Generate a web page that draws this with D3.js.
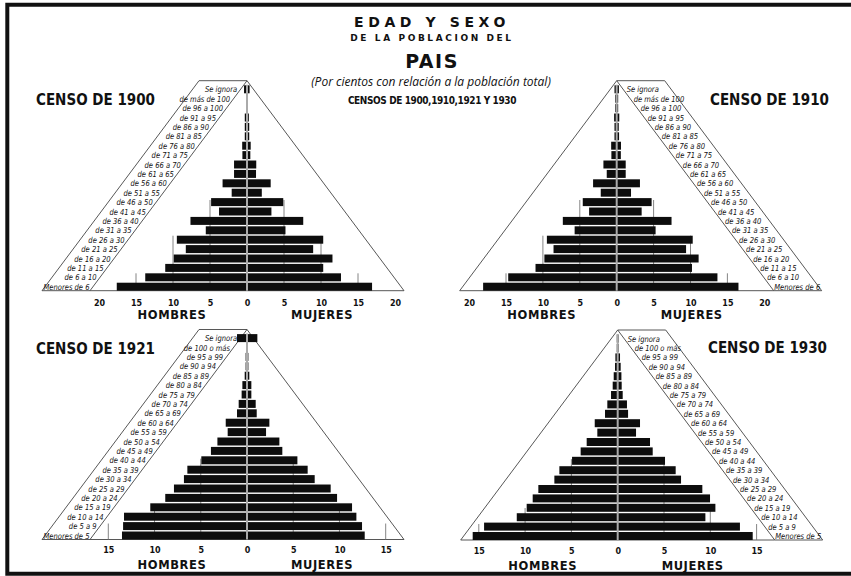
<!DOCTYPE html>
<html>
<head>
<meta charset="utf-8">
<script src="https://cdn.jsdelivr.net/npm/d3@7"></script>
<style>
  body { margin: 0; background: #fff; }
  svg { display: block; }
  .head { font-family: "DejaVu Sans", sans-serif; font-weight: bold; fill: #111; }
  .censo { font-family: "DejaVu Sans Condensed", "DejaVu Sans", sans-serif; font-weight: bold; fill: #111; }
  .age { font-family: "DejaVu Sans Condensed", sans-serif; font-style: italic; font-size: 8.2px; fill: #111; }
  .tick text { font-family: "DejaVu Sans", sans-serif; font-weight: bold; font-size: 8px; fill: #111; }
</style>
</head>
<body>
<div id="chart"></div>
<script>
//age groups, youngest first
var ages1900 = ["Menores de 6", "de 6 a 10", "de 11 a 15", "de 16 a 20", "de 21 a 25", "de 26 a 30",
  "de 31 a 35", "de 36 a 40", "de 41 a 45", "de 46 a 50", "de 51 a 55", "de 56 a 60", "de 61 a 65",
  "de 66 a 70", "de 71 a 75", "de 76 a 80", "de 81 a 85", "de 86 a 90", "de 91 a 95", "de 96 a 100",
  "de más de 100", "Se ignora"];
var ages1921 = ["Menores de 5", "de 5 a 9", "de 10 a 14", "de 15 a 19", "de 20 a 24", "de 25 a 29",
  "de 30 a 34", "de 35 a 39", "de 40 a 44", "de 45 a 49", "de 50 a 54", "de 55 a 59", "de 60 a 64",
  "de 65 a 69", "de 70 a 74", "de 75 a 79", "de 80 a 84", "de 85 a 89", "de 90 a 94", "de 95 a 99",
  "de 100 o más", "Se ignora"];

//per cent of total population
var hombres1900 = [17.6, 13.75, 11.05, 9.9, 8.27, 9.48, 5.57, 7.64, 3.78, 4.85, 2.07, 3.3, 1.75, 1.75, 0.62, 0.65, 0.3, 0.3, 0.3, 0.1, 0.05, 0.4];
var mujeres1900 = [16.9, 12.7, 10.3, 11.55, 8.94, 10.3, 5.2, 7.6, 3.3, 4.9, 2.0, 3.2, 1.22, 1.25, 0.45, 0.5, 0.3, 0.3, 0.25, 0.1, 0.05, 0.35];
var hombres1910 = [18.1, 14.7, 11.0, 9.8, 8.56, 9.46, 5.7, 7.3, 3.74, 4.6, 2.16, 3.2, 1.35, 1.8, 0.72, 0.75, 0.3, 0.3, 0.35, 0.2, 0.2, 0.3];
var mujeres1910 = [16.5, 13.65, 10.2, 11.1, 9.4, 10.3, 5.27, 7.43, 3.38, 4.73, 1.94, 3.15, 1.22, 1.22, 0.56, 0.58, 0.32, 0.28, 0.35, 0.2, 0.2, 0.3];
var hombres1921 = [13.52, 13.4, 13.3, 10.46, 8.84, 7.9, 6.82, 6.45, 4.94, 3.9, 3.2, 2.09, 2.3, 1.08, 0.9, 0.58, 0.5, 0.25, 0.15, 0.15, 0.05, 1.08];
var mujeres1921 = [12.73, 12.44, 11.83, 11.36, 9.74, 9.05, 7.32, 6.56, 5.45, 3.82, 3.5, 2.06, 2.42, 1.05, 0.94, 0.47, 0.47, 0.25, 0.15, 0.15, 0.05, 1.12];
var hombres1930 = [15.66, 14.43, 10.9, 9.83, 9.18, 8.57, 6.84, 6.3, 4.93, 4.0, 3.35, 2.2, 2.48, 1.37, 1.12, 0.72, 0.54, 0.43, 0.29, 0.25, 0.1, 0.1];
var mujeres1930 = [14.58, 13.2, 9.47, 10.55, 9.97, 9.14, 6.84, 6.26, 5.11, 3.78, 3.49, 1.98, 2.41, 1.12, 1.0, 0.54, 0.43, 0.4, 0.32, 0.25, 0.1, 0.1];

//tick labels (men to the left)
var ticks20 = [-20, -15, -10, -5, 0, 5, 10, 15, 20];
var ticks15 = [-15, -10, -5, 0, 5, 10, 15];
var gridValues = [-15, -10, -5, 5, 10, 15];

var width = 851;
var height = 576;
var rowStep = 9.4;
var triH = 210;      //height of the pyramid outline
var triHalf = 157;   //half of its base
var bandW = 48;      //width of the slanted label strip

var svg = d3.select('#chart')
  .append('svg')
  .attr('width', width)
  .attr('height', height);

//frame (no right edge in the scan)
svg.append('path')
  .attr('d', 'M860,4.7H7.3V573.8H860')
  .attr('fill', 'none')
  .attr('stroke', '#111')
  .attr('stroke-width', 4);

//headings
var heads = [
  {t: 'EDAD Y SEXO', y: 27, size: 14, ls: 4.6},
  {t: 'DE LA POBLACION DEL', y: 41, size: 9, ls: 2.6},
  {t: 'PAIS', y: 68, size: 19, ls: 1.5},
  {t: 'CENSOS DE 1900,1910,1921 Y 1930', y: 104, size: 10, ls: -0.4}
];
svg.selectAll('.head')
  .data(heads)
  .enter()
  .append('text')
  .attr('class', function (d, i) { return i == 3 ? 'censo' : 'head'; })
  .attr('x', 432)
  .attr('y', function (d) { return d.y; })
  .attr('text-anchor', 'middle')
  .style('font-size', function (d) { return d.size + 'px'; })
  .style('letter-spacing', function (d) { return d.ls + 'px'; })
  .text(function (d) { return d.t; });

svg.append('text')
  .attr('x', 431)
  .attr('y', 86)
  .attr('text-anchor', 'middle')
  .style('font-family', '"Open Sans", "DejaVu Sans", sans-serif')
  .style('font-style', 'italic')
  .style('font-size', '12px')
  .style('fill', '#111')
  .text('(Por cientos con relación a la población total)');

var panels = [
  {title: 'CENSO DE 1900', men: hombres1900, women: mujeres1900, ages: ages1900, ticks: ticks20,
   cx: 247, by: 290.7, half: 148, labels: 'left', tx: 36, ty: 105, grid: [9.65, 5.85, 1.85], tickDy: 14.8, sexDy: 28.5},
  {title: 'CENSO DE 1910', men: hombres1910, women: mujeres1910, ages: ages1900, ticks: ticks20,
   cx: 616.7, by: 290.7, half: 147.6, labels: 'right', tx: 710, ty: 105, grid: [9.65, 5.85, 1.85], tickDy: 14.8, sexDy: 28.5},
  {title: 'CENSO DE 1921', men: hombres1921, women: mujeres1921, ages: ages1921, ticks: ticks15,
   cx: 247, by: 539.5, half: 138.7, labels: 'left', tx: 36, ty: 354, grid: [8.6, 3.4, 1.7], tickDy: 13.5, sexDy: 29.5},
  {title: 'CENSO DE 1930', men: hombres1930, women: mujeres1930, ages: ages1921, ticks: ticks15,
   cx: 617.7, by: 540, half: 138.9, labels: 'right', tx: 708, ty: 353, grid: [8.6, 3.4, 1.7], tickDy: 13.5, sexDy: 29.5}
];

panels.forEach(function (p) {
  var max = d3.max(p.ticks);
  var x = d3.scaleLinear()
    .domain([-max, max])
    .range([p.cx - p.half, p.cx + p.half]);
  var y = d3.scaleBand()
    .domain(d3.range(p.ages.length))
    .range([p.by, p.by - rowStep * (p.ages.length - 0.15)])
    .paddingInner(0.15);
  var top = p.by - triH;
  var g = svg.append('g');

  //outline: triangle plus the slanted strip holding the age labels
  var s = p.labels == 'left' ? -1 : 1;
  var outline = d3.path();
  outline.moveTo(p.cx - s * triHalf, p.by);
  outline.lineTo(p.cx, top);
  outline.lineTo(p.cx + s * triHalf, p.by);
  outline.lineTo(p.cx + s * (triHalf + bandW), p.by);
  outline.lineTo(p.cx + s * bandW, top);
  outline.lineTo(p.cx, top);
  outline.moveTo(p.cx - s * triHalf, p.by);
  outline.lineTo(p.cx + s * triHalf, p.by);
  g.append('path')
    .attr('d', outline.toString())
    .attr('fill', 'none')
    .attr('stroke', '#444')
    .attr('stroke-width', 0.9);

  //short reference lines behind the bars
  g.selectAll('.grid')
    .data(gridValues)
    .enter()
    .append('line')
    .attr('x1', function (d) { return x(d); })
    .attr('x2', function (d) { return x(d); })
    .attr('y1', p.by)
    .attr('y2', function (d) { return p.by - p.grid[Math.abs(d) / 5 - 1] * rowStep; })
    .attr('stroke', '#777')
    .attr('stroke-width', 0.9);

  g.selectAll('.men')
    .data(p.men)
    .enter()
    .append('rect')
    .attr('x', function (d) { return x(-d); })
    .attr('y', function (d, i) { return y(i); })
    .attr('width', function (d) { return x(0) - x(-d); })
    .attr('height', y.bandwidth())
    .attr('fill', '#0d0d0d');

  g.selectAll('.women')
    .data(p.women)
    .enter()
    .append('rect')
    .attr('x', x(0))
    .attr('y', function (d, i) { return y(i); })
    .attr('width', function (d) { return x(d) - x(0); })
    .attr('height', y.bandwidth())
    .attr('fill', '#0d0d0d');

  //centre line
  g.append('line')
    .attr('x1', x(0))
    .attr('x2', x(0))
    .attr('y1', top + 4)
    .attr('y2', p.by)
    .attr('stroke', '#aaa')
    .attr('stroke-width', 2);

  //age labels along the slanted side, squeezed to fit the strip
  g.selectAll('.age')
    .data(p.ages)
    .enter()
    .append('text')
    .attr('class', 'age')
    .attr('transform', function (d, i) {
      var yc = y(i) + y.bandwidth() / 2;
      var lx = p.cx + s * (triHalf * (yc - top) / triH + 3.5);
      return 'translate(' + lx + ',' + (yc + 3) + ') scale(0.92,1)';
    })
    .attr('text-anchor', p.labels == 'left' ? 'end' : 'start')
    .text(function (d) { return d; });

  var axis = d3.axisBottom(x)
    .tickValues(p.ticks)
    .tickFormat(function (d) { return Math.abs(d); })
    .tickSize(0)
    .tickPadding(0);
  var ax = g.append('g')
    .attr('transform', 'translate(0,' + (p.by + p.tickDy) + ')')
    .call(axis);
  ax.select('.domain').remove();
  ax.selectAll('text').attr('dy', 0).attr('y', 0);

  g.append('text')
    .attr('class', 'head')
    .attr('x', p.cx - 75)
    .attr('y', p.by + p.sexDy)
    .attr('text-anchor', 'middle')
    .style('font-size', '11.5px')
    .style('letter-spacing', '0.6px')
    .text('HOMBRES');
  g.append('text')
    .attr('class', 'head')
    .attr('x', p.cx + 75)
    .attr('y', p.by + p.sexDy)
    .attr('text-anchor', 'middle')
    .style('font-size', '11.5px')
    .style('letter-spacing', '0.6px')
    .text('MUJERES');

  g.append('text')
    .attr('class', 'censo')
    .attr('x', p.tx)
    .attr('y', p.ty)
    .style('font-size', '15px')
    .text(p.title);
});
</script>
</body>
</html>
